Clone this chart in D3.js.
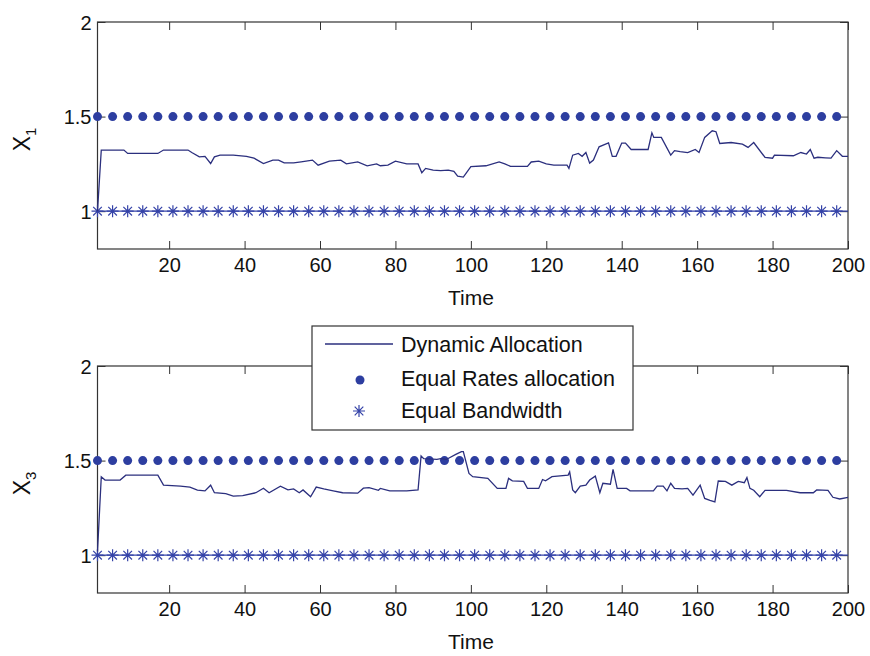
<!DOCTYPE html>
<html><head><meta charset="utf-8">
<script src="https://cdn.jsdelivr.net/npm/d3@7"></script>
<style>
body{margin:0;background:#fff;}
text{font-family:"Liberation Sans",Arial,sans-serif;fill:#111;}
</style></head>
<body><svg id="c" width="870" height="656"></svg>
<script>
// ---------- data ----------
const xTicks = [20,40,60,80,100,120,140,160,180,200];
const yTicks = [1,1.5,2];
const yTickLabels = ["1","1.5","2"];
const markerTimes = [1,5,9,13,17,21,25,29,33,37,41,45,49,53,57,61,65,69,73,77,81,85,89,93,97,101,105,109,113,117,121,125,129,133,137,141,145,149,153,157,161,165,169,173,177,181,185,189,193,197];
const equalRatesLevel = 1.5;
const equalBandwidthLevel = 1;
const seriesNames = ["Dynamic Allocation","Equal Rates allocation","Equal Bandwidth"];

const x1Time = [1,2,8,9,17,18.5,25,26,28,29.5,31,32,33.5,37,40.5,42.5,45,47.5,49,50.5,53,55,58,59.5,62.5,65.5,67,70,72.5,75,76,78,80,83,86,87,88,90,92,94,95.5,96.5,98,100,104,107.5,109,110.5,115,116,118,120,122,125.5,126,127,128.5,129.5,130.5,131.5,132.5,134,136.5,137.5,138.5,140,141,142.5,147,148,148.5,150.5,153,154,155.5,157.5,159.5,160.5,162,164,165,166,169,172,173.5,175,178,180,180.5,185.5,187.5,189,190,191,192,194,195.5,197,198.5,200];
const x1Value = [1.00,1.323,1.323,1.305,1.305,1.323,1.323,1.31,1.287,1.29,1.252,1.287,1.296,1.296,1.29,1.28,1.252,1.27,1.27,1.255,1.255,1.261,1.27,1.243,1.264,1.27,1.25,1.26,1.24,1.25,1.24,1.243,1.264,1.25,1.25,1.203,1.226,1.217,1.214,1.217,1.21,1.185,1.18,1.235,1.24,1.26,1.25,1.237,1.237,1.26,1.264,1.25,1.243,1.243,1.226,1.296,1.305,1.29,1.31,1.254,1.27,1.34,1.361,1.29,1.29,1.36,1.36,1.326,1.326,1.414,1.39,1.39,1.296,1.32,1.315,1.31,1.326,1.31,1.39,1.425,1.42,1.358,1.363,1.354,1.337,1.363,1.284,1.28,1.296,1.293,1.31,1.302,1.326,1.28,1.285,1.282,1.28,1.32,1.29,1.29];

const x3Time = [1,2,3,7,8.5,17,18.5,23,25.5,27.5,29.5,31,32,35,37,39.5,43,45,46.5,49.5,51.5,53,54.5,55.5,57.5,59,61,63.5,66,70,71.5,73,75.5,76,78.5,83,86,86.8,87.5,91,92,93.5,96,97.5,98,99.5,100.5,104.5,107,109.3,110,111,114,115,118,119,119.8,121.5,125.8,126.2,127,127.7,129,130.5,131.5,133,134.2,135,137,137.7,138.8,141.3,142.2,148.4,149.4,151,152,153,154,156,157.5,158.9,160.8,162,163.4,164.7,165.6,167.5,169.2,170.9,172.5,173.2,174,175,176.6,178,183.7,187.3,190.8,191.7,194.7,196,197.8,200];
const x3Value = [1.02,1.414,1.397,1.397,1.423,1.423,1.37,1.365,1.36,1.344,1.34,1.37,1.33,1.325,1.312,1.315,1.33,1.354,1.33,1.365,1.345,1.35,1.33,1.345,1.309,1.36,1.35,1.34,1.33,1.328,1.354,1.357,1.343,1.353,1.34,1.34,1.345,1.524,1.51,1.506,1.51,1.506,1.533,1.547,1.547,1.432,1.415,1.406,1.353,1.353,1.406,1.393,1.39,1.353,1.353,1.4,1.393,1.415,1.423,1.44,1.345,1.33,1.365,1.37,1.397,1.418,1.33,1.38,1.375,1.453,1.353,1.353,1.34,1.34,1.365,1.365,1.34,1.38,1.353,1.35,1.353,1.317,1.37,1.3,1.29,1.282,1.392,1.39,1.37,1.39,1.383,1.41,1.353,1.343,1.309,1.343,1.343,1.33,1.33,1.345,1.343,1.306,1.297,1.306];

// ---------- styling ----------
const lineColor = "#2b2f7e";
const dotColor = "#2d3ea0";
const starColor = "#3543a8";
const axisColor = "#333";

const svg = d3.select("#c");
const x = d3.scaleLinear().domain([1,200]).range([97.5,848]);

function star(g, cx, cy, s){
  const d = s*0.72;
  g.append("path")
   .attr("d",`M${cx},${cy-s}L${cx},${cy+s}M${cx-s},${cy}L${cx+s},${cy}M${cx-d},${cy-d}L${cx+d},${cy+d}M${cx-d},${cy+d}L${cx+d},${cy-d}`)
   .attr("stroke",starColor).attr("stroke-width",1.2).attr("fill","none");
}

function panel(top, bottom, times, values, sub){
  const y = d3.scaleLinear().domain([0.8,2]).range([bottom, top]);
  const g = svg.append("g");
  // axes
  const ax = g.append("g").attr("transform",`translate(0,${bottom})`)
    .call(d3.axisBottom(x).tickValues(xTicks).tickSizeInner(-8).tickSizeOuter(0).tickPadding(9));
  ax.selectAll("text").attr("font-size",20).attr("font-family","Liberation Sans, Arial, sans-serif").attr("fill","#111");
  g.append("g").attr("transform",`translate(0,${top})`)
    .call(d3.axisTop(x).tickValues(xTicks).tickSizeInner(-8).tickSizeOuter(0).tickFormat(""));
  const ay = g.append("g").attr("transform",`translate(${x.range()[0]},0)`)
    .call(d3.axisLeft(y).tickValues(yTicks).tickSizeInner(-8).tickSizeOuter(0).tickPadding(6)
      .tickFormat((d,i)=>yTickLabels[i]));
  ay.selectAll("text").attr("font-size",20).attr("font-family","Liberation Sans, Arial, sans-serif").attr("fill","#111").attr("dy","0.36em");
  g.append("g").attr("transform",`translate(${x.range()[1]},0)`)
    .call(d3.axisRight(y).tickValues(yTicks).tickSizeInner(-8).tickSizeOuter(0).tickFormat(""));
  g.selectAll(".domain").remove();
  g.selectAll(".tick line").attr("stroke",axisColor);
  g.append("rect").attr("x",x.range()[0]).attr("y",top)
    .attr("width",x.range()[1]-x.range()[0]).attr("height",bottom-top)
    .attr("fill","none").attr("stroke",axisColor).attr("stroke-width",1.2);

  // equal bandwidth line + stars
  g.append("line").attr("x1",x(1)).attr("x2",x(200))
    .attr("y1",y(equalBandwidthLevel)).attr("y2",y(equalBandwidthLevel))
    .attr("stroke",starColor).attr("stroke-width",1.2);
  markerTimes.forEach(t=>star(g, x(t), y(equalBandwidthLevel), 6));
  // equal rates dots
  g.selectAll(".dot").data(markerTimes).enter().append("circle")
    .attr("cx",d=>x(d)).attr("cy",y(equalRatesLevel)).attr("r",4.5).attr("fill",dotColor);
  // dynamic allocation line
  const pts = times.map((t,i)=>[t, values[i]]);
  g.append("path").datum(pts)
    .attr("d", d3.line().x(d=>x(d[0])).y(d=>y(d[1])))
    .attr("fill","none").attr("stroke",lineColor).attr("stroke-width",1.3);

  // labels
  g.append("text").attr("x",471).attr("y",bottom+56).attr("text-anchor","middle")
    .attr("font-size",21).text("Time");
  const yl = g.append("text").attr("transform",`translate(30,${(top+bottom)/2+4}) rotate(-90)`)
    .attr("text-anchor","middle").attr("font-size",23);
  yl.append("tspan").text("X");
  yl.append("tspan").attr("font-size",15).attr("dy",6).text(sub);
  return y;
}

panel(22, 249, x1Time, x1Value, "1");
panel(366, 593, x3Time, x3Value, "3");

// ---------- legend ----------
const lg = svg.append("g");
lg.append("rect").attr("x",312).attr("y",326).attr("width",321).attr("height",104)
  .attr("fill","#fff").attr("stroke",axisColor).attr("stroke-width",1.2);
lg.append("line").attr("x1",325).attr("x2",393).attr("y1",344).attr("y2",344)
  .attr("stroke",lineColor).attr("stroke-width",1.3);
lg.append("circle").attr("cx",360).attr("cy",380).attr("r",4.5).attr("fill",dotColor);
star(lg, 359, 411, 6);
const lgY = [352, 386, 418];
seriesNames.forEach((n,i)=>{
  lg.append("text").attr("x",401).attr("y",lgY[i]).attr("font-size",21.5).text(n);
});
</script></body></html>
